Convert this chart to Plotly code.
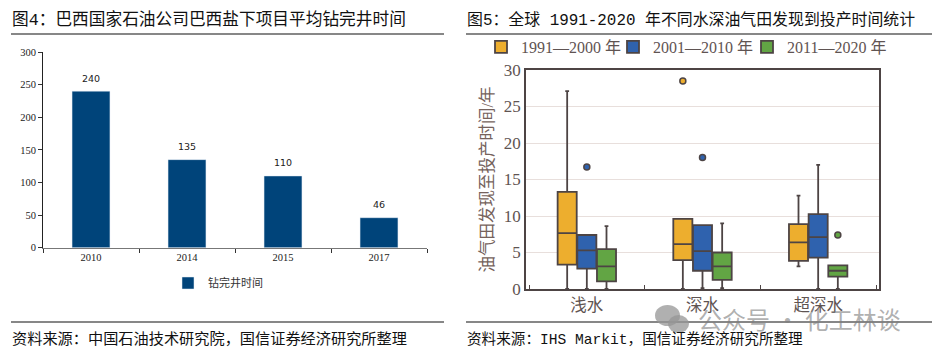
import plotly.graph_objects as go

W, H = 932, 356
# left chart data
years = ["2010", "2014", "2015", "2017"]
drill_days = [240, 135, 110, 46]

# right chart data
water = ["浅水", "深水", "超深水"]
periods = ["1991—2000 年", "2001—2010 年", "2011—2020 年"]
low = [[0, 0, 3.1], [0, 0.1, 0], [0.0, 0.1, 0]]
q1 = [[3.35, 3.95, 3.85], [2.8, 2.5, 4.3], [1.05, 1.25, 1.7]]
med = [[7.65, 6.15, 6.4], [5.3, 5.2, 7.1], [3.1, 3.1, 2.5]]
q3 = [[13.3, 9.6, 8.9], [7.4, 8.75, 10.25], [5.45, 5.0, 3.25]]
high = [[27.1, 9.6, 12.8], [7.4, 8.75, 17.0], [8.6, 9.0, 3.25]]
outliers = [[[], [28.5], []], [[16.7], [18.0], []], [[], [], [7.4]]]
fills = ["#EDAE2E", "#2F62AE", "#62A544"]
legend_ids = ["legend2", "legend3", "legend4"]
legend_left = [481, 613, 747]
INK = "#4d4444"
SERIF = "Liberation Serif, Noto Sans CJK SC, serif"
CJK = "Noto Sans CJK SC, sans-serif"
MONO = "Liberation Mono, Noto Sans CJK SC, monospace"
fig = go.Figure()
fig.add_trace(go.Bar(x=years, y=drill_days, name="钻完井时间", marker_color="#00447A", showlegend=True,
                     xaxis="x", yaxis="y", legend="legend", hoverinfo="skip"))
for k, v in enumerate(drill_days):
    fig.add_annotation(xref="x", yref="y", x=k, y=v, yshift=13, text=str(v), showarrow=False,
                       font=dict(family="DejaVu Sans", size=9.5, color="#222"))
for i, p in enumerate(periods):
    samples = [[med[i][k]] + outliers[i][k] for k in range(len(water))]
    fig.add_trace(go.Box(
        name=p, x=water, y=samples, q1=q1[i], median=med[i], q3=q3[i],
        lowerfence=low[i], upperfence=high[i], boxpoints="outliers", showlegend=True,
        fillcolor=fills[i], line=dict(color=INK, width=1.8), whiskerwidth=0.2,
        marker=dict(color=fills[i], size=6, line=dict(color=INK, width=1.5)),
        xaxis="x2", yaxis="y2", legend=legend_ids[i], hoverinfo="skip"))

def px(v): return v / W
def py(v): return 1 - v / H

def label(x, y, t, size=15, family=MONO, color="#111", anchor="left"):
    fig.add_annotation(xref="paper", yref="paper", x=px(x), y=py(y), text=t, showarrow=False,
                       xanchor=anchor, yanchor="middle", font=dict(family=family, size=size, color=color))

label(10, 20, "图4：巴西国家石油公司巴西盐下项目平均钻完井时间", size=16.7)
label(465, 20, "图5：全球 1991-2020 年不同水深油气田发现到投产时间统计", size=15.9)
label(10, 339, "资料来源：中国石油技术研究院，国信证券经济研究所整理", size=15.2)
label(465, 339, "资料来源：IHS Markit，国信证券经济研究所整理", size=14.6)
label(696, 318, "公众号 · 化工林谈", size=24, family=CJK, color="rgba(125,125,125,0.62)")

shapes = []
for x0, x1, y in [(11, 444, 34), (466, 932, 34), (11, 444, 322), (466, 932, 322)]:
    shapes.append(dict(type="line", xref="paper", yref="paper", x0=px(x0), x1=px(x1),
                       y0=py(y), y1=py(y), line=dict(color="#111", width=1.2)))
for x0, x1, y0, y1 in [(655, 680, 305, 326), (668, 689, 315, 333)]:
    shapes.append(dict(type="circle", xref="paper", yref="paper", x0=px(x0), x1=px(x1),
                       y0=py(y1), y1=py(y0), fillcolor="rgba(150,150,150,0.75)", line_width=0))

fig.update_layout(
    width=W, height=H, margin=dict(l=0, r=0, t=0, b=0, autoexpand=False), autosize=False,
    paper_bgcolor="white", plot_bgcolor="white",
    bargap=0.605, boxmode="group", boxgap=0.49, boxgroupgap=0.03, shapes=shapes,
    xaxis=dict(domain=[px(43), px(427)], anchor="y", type="category", tickson="boundaries",
               range=[-0.5, 3.5], tickangle=0,
               ticks="outside", ticklen=4, tickcolor="#333", showline=True, linecolor="#777",
               showgrid=False, tickfont=dict(family="Liberation Serif", size=10.5, color="#222")),
    yaxis=dict(domain=[py(247.7), py(52)], anchor="x", range=[0, 300], dtick=50, ticks="outside",
               ticklen=4, tickcolor="#333", showline=True, linecolor="#222", showgrid=False,
               tickfont=dict(family="Liberation Serif", size=10.5, color="#222")),
    xaxis2=dict(domain=[px(526), px(879)], anchor="y2", type="category", tickson="boundaries",
                ticks="inside", ticklen=4, tickcolor=INK, showline=True, linecolor=INK, linewidth=1.6,
                mirror=True, showgrid=False, tickfont=dict(family=SERIF, size=16.5, color="#5f5452")),
    yaxis2=dict(domain=[py(289), py(70)], anchor="x2", range=[0, 30], dtick=5, ticks="", showline=True,
                linecolor=INK, linewidth=1.6, mirror=True, showgrid=True, gridcolor="#e8dfdc", gridwidth=1.2,
                zeroline=False, tickfont=dict(family=SERIF, size=17, color="#5f5452"),
                title=dict(text="油气田发现至投产时间/年", standoff=6,
                           font=dict(family=SERIF, size=16.5, color="#75625c"))),
    legend=dict(x=px(218), y=py(283), xanchor="center", yanchor="middle", orientation="h",
                font=dict(family=CJK, size=11, color="#333"), itemwidth=30, bgcolor="rgba(0,0,0,0)"),
)
for lid, left in zip(legend_ids, legend_left):
    fig.update_layout({lid: dict(x=px(left), y=py(47), xanchor="left", yanchor="middle", orientation="h",
                                 font=dict(family=SERIF, size=16, color="#5f5452"), itemwidth=30,
                                 bgcolor="rgba(0,0,0,0)")})
fig.write_html("out.html", post_script="document.body.style.margin='0';", config=dict(displayModeBar=False))
